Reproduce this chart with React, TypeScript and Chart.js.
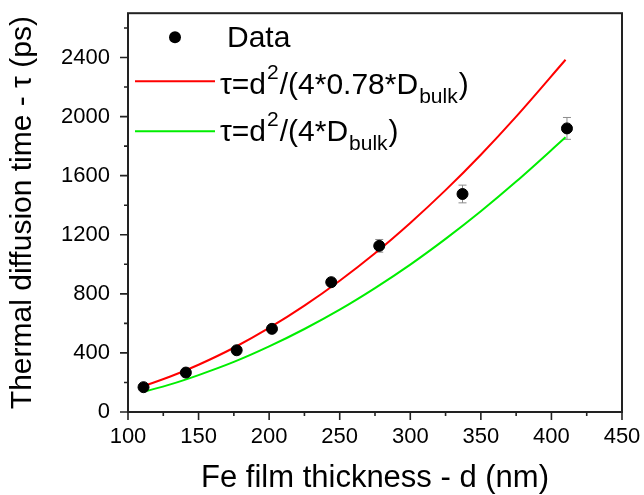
import React, { useEffect, useRef } from 'react';
import { Chart, registerables } from 'chart.js';

Chart.register(...registerables);

// Measured data
const thickness = [111, 141, 177, 202, 244, 278, 337, 411];
const tau = [168, 267, 418, 563, 879, 1125, 1476, 1920];
const tauErr = [15, 15, 18, 18, 25, 43, 60, 74];

// Model curves
const fitD = [111, 130, 150, 175, 200, 225, 250, 275, 300, 325, 350, 375, 410];
const fitRed = [175, 240, 320, 435, 569, 720, 889, 1075, 1280, 1502, 1742, 2000, 2385];
const fitGreen = [137, 187, 250, 339, 444, 562, 693, 839, 998, 1172, 1359, 1560, 1860];

// Axis settings
const xTicks = [100, 150, 200, 250, 300, 350, 400, 450];
const yTicks = [0, 400, 800, 1200, 1600, 2000, 2400];
const xMin = 100;
const xMax = 450;
const yMin = 0;
const yMax = 2700;

const xTitle = 'Fe film thickness - d (nm)';
const yTitle = 'Thermal diffusion time - \u03C4 (ps)';

// Legend labels: [normal, superscript, normal, subscript, normal]
const legendData = 'Data';
const legendRed = ['\u03C4=d', '2', '/(4*0.78*D', 'bulk', ')'];
const legendGreen = ['\u03C4=d', '2', '/(4*D', 'bulk', ')'];

const FONT = '"Liberation Sans", Arial, sans-serif';
const RED = '#ff0000';
const GREEN = '#00ee00';
const CLEAR = 'rgba(0,0,0,0)';

const framePlugin = {
  id: 'frameTicks',
  beforeDatasetsDraw(chart: any) {
    const { ctx, scales } = chart;
    const x = scales.x;
    const y = scales.y;
    ctx.save();
    ctx.strokeStyle = '#8c8c8c';
    ctx.lineWidth = 1;
    for (let i = 0; i < thickness.length; i++) {
      const px = x.getPixelForValue(thickness[i]);
      const pTop = y.getPixelForValue(tau[i] + tauErr[i]);
      const pBot = y.getPixelForValue(tau[i] - tauErr[i]);
      ctx.beginPath();
      ctx.moveTo(px, pTop);
      ctx.lineTo(px, pBot);
      ctx.moveTo(px - 4, pTop);
      ctx.lineTo(px + 4, pTop);
      ctx.moveTo(px - 4, pBot);
      ctx.lineTo(px + 4, pBot);
      ctx.stroke();
    }
    ctx.restore();
  },
  afterDraw(chart: any) {
    const { ctx, chartArea: a, scales } = chart;
    const x = scales.x;
    const y = scales.y;
    ctx.save();
    ctx.strokeStyle = '#222';
    ctx.lineWidth = 2;
    ctx.strokeRect(a.left, a.top, a.right - a.left, a.bottom - a.top);
    ctx.lineWidth = 1.6;
    ctx.beginPath();
    for (let v = yMin; v <= yMax; v += 200) {
      const py = y.getPixelForValue(v);
      const len = v % 400 === 0 ? 8 : 4;
      ctx.moveTo(a.left, py);
      ctx.lineTo(a.left - len, py);
    }
    for (let v = xMin; v <= xMax; v += 25) {
      const px = x.getPixelForValue(v);
      const len = (v - xMin) % 50 === 0 ? 8 : 4;
      ctx.moveTo(px, a.bottom);
      ctx.lineTo(px, a.bottom + len);
    }
    ctx.stroke();

    // Legend
    const lx = a.left;
    const ly = a.top;
    ctx.fillStyle = '#000';
    ctx.beginPath();
    ctx.arc(lx + 47, ly + 24, 6, 0, Math.PI * 2);
    ctx.fill();
    ctx.textBaseline = 'alphabetic';
    ctx.textAlign = 'left';
    ctx.font = `30px ${FONT}`;
    ctx.fillText(legendData, lx + 99, ly + 34);

    const drawRich = (parts: string[], tx: number, ty: number) => {
      let cx = tx;
      parts.forEach((p, i) => {
        if (i === 1) {
          ctx.font = `21px ${FONT}`;
          ctx.fillText(p, cx + 1, ty - 15);
          cx += ctx.measureText(p).width + 2;
        } else if (i === 3) {
          ctx.font = `21px ${FONT}`;
          ctx.fillText(p, cx + 1, ty + 9);
          cx += ctx.measureText(p).width + 2;
        } else {
          ctx.font = `30px ${FONT}`;
          ctx.fillText(p, cx, ty);
          cx += ctx.measureText(p).width;
        }
      });
    };

    ctx.lineWidth = 2;
    ctx.strokeStyle = RED;
    ctx.beginPath();
    ctx.moveTo(lx + 7, ly + 68);
    ctx.lineTo(lx + 87, ly + 68);
    ctx.stroke();
    drawRich(legendRed, lx + 92, ly + 81);

    ctx.strokeStyle = GREEN;
    ctx.beginPath();
    ctx.moveTo(lx + 7, ly + 118);
    ctx.lineTo(lx + 87, ly + 118);
    ctx.stroke();
    drawRich(legendGreen, lx + 92, ly + 128);

    ctx.restore();
  },
};

export default function App() {
  const canvasRef = useRef<HTMLCanvasElement | null>(null);

  useEffect(() => {
    document.body.style.margin = '0';
    const canvas = canvasRef.current;
    if (!canvas) return;
    const chart = new Chart(canvas, {
      type: 'scatter',
      data: {
        datasets: [
          {
            label: 'Data',
            data: thickness.map((d, i) => ({ x: d, y: tau[i] })),
            backgroundColor: '#000',
            borderColor: '#000',
            pointRadius: 5.5,
            pointHoverRadius: 5.5,
            showLine: false,
            order: 0,
          },
          {
            label: 'red',
            data: fitD.map((d, i) => ({ x: d, y: fitRed[i] })),
            borderColor: RED,
            backgroundColor: RED,
            borderWidth: 2,
            pointRadius: 0,
            showLine: true,
            cubicInterpolationMode: 'monotone',
            order: 1,
          },
          {
            label: 'green',
            data: fitD.map((d, i) => ({ x: d, y: fitGreen[i] })),
            borderColor: GREEN,
            backgroundColor: GREEN,
            borderWidth: 2,
            pointRadius: 0,
            showLine: true,
            cubicInterpolationMode: 'monotone',
            order: 2,
          },
        ],
      },
      options: {
        animation: false,
        responsive: true,
        maintainAspectRatio: false,
        layout: { padding: { left: 0, top: 13, right: 22, bottom: 0 } },
        plugins: {
          legend: { display: false },
          tooltip: { enabled: false },
        },
        scales: {
          x: {
            type: 'linear',
            min: xMin,
            max: xMax,
            grid: {
              display: true,
              drawOnChartArea: false,
              drawTicks: true,
              tickLength: 12,
              color: CLEAR,
              tickColor: CLEAR,
            },
            border: { display: false },
            afterBuildTicks: (s: any) => {
              s.ticks = xTicks.map((v) => ({ value: v }));
            },
            ticks: {
              autoSkip: false,
              padding: 0,
              color: '#000',
              font: { family: FONT, size: 22 },
              maxRotation: 0,
              callback: (v: any) => String(v),
            },
            title: {
              display: true,
              text: xTitle,
              color: '#000',
              font: { family: FONT, size: 31 },
              padding: { top: 0, bottom: -2 },
            },
            afterFit: (s: any) => {
              s.height = 83;
            },
          },
          y: {
            type: 'linear',
            min: yMin,
            max: yMax,
            grid: {
              display: true,
              drawOnChartArea: false,
              drawTicks: true,
              tickLength: 18,
              color: CLEAR,
              tickColor: CLEAR,
            },
            border: { display: false },
            afterBuildTicks: (s: any) => {
              s.ticks = yTicks.map((v) => ({ value: v }));
            },
            ticks: {
              autoSkip: false,
              padding: 0,
              color: '#000',
              font: { family: FONT, size: 22 },
              callback: (v: any) => String(v),
            },
            title: {
              display: true,
              text: yTitle,
              color: '#000',
              font: { family: FONT, size: 30 },
              padding: { top: 5, bottom: 0 },
            },
            afterFit: (s: any) => {
              s.width = 128;
            },
          },
        },
      },
      plugins: [framePlugin],
    });
    return () => chart.destroy();
  }, []);

  return (
    <div style={{ width: 644, height: 495, position: 'relative', background: '#fff' }}>
      <canvas ref={canvasRef} />
    </div>
  );
}
